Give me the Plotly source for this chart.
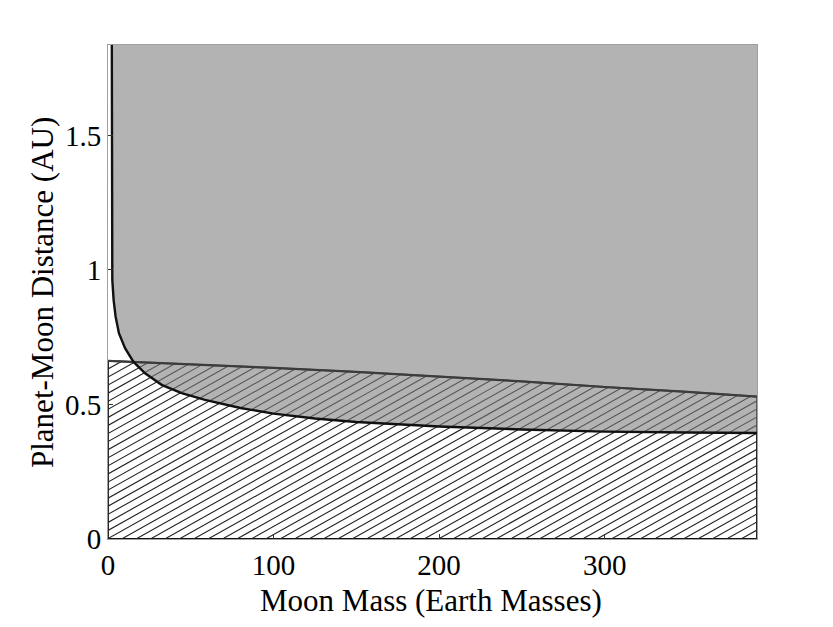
import numpy as np
import plotly.graph_objects as go

# ---- data ----
CURVE_M = [2.3, 2.4, 2.5, 2.6, 3.4, 4.6, 6.6, 10.3, 15.3, 22.4, 32.4, 44.5, 58.6,
           80, 100, 125, 150, 200, 250, 300, 350, 392]
CURVE_A = [1.84, 1.5, 1.2, 0.963, 0.888, 0.826, 0.765, 0.709, 0.659, 0.616, 0.573,
           0.542, 0.517, 0.487, 0.466, 0.448, 0.435, 0.418, 0.407, 0.399, 0.396, 0.394]

LINE_M = [0, 50, 100, 150, 200, 250, 300, 350, 392]
LINE_A = [0.662, 0.650, 0.636, 0.621, 0.604, 0.586, 0.565, 0.547, 0.529]

X_TICKS = [0, 100, 200, 300]
X_TICK_TEXT = ["0", "100", "200", "300"]
Y_TICKS = [0, 0.5, 1, 1.5]
Y_TICK_TEXT = ["0", "0.5", "1", "1.5"]

X_TITLE = "Moon Mass (Earth Masses)"
Y_TITLE = "Planet-Moon Distance (AU)"

X_MAX = 392
Y_MAX = 1.836

# ---- hatch styling (decoration derived from the boundary line) ----
HATCH_SLOPE = 0.00345    # AU per Earth mass (~30 deg on screen)
HATCH_STEP = 8.7         # Earth masses between lines along the x axis


def hatch_segments(bx, by, slope, step, xmax):
    xs = np.linspace(0, xmax, 4000)
    top = np.interp(xs, bx, by)
    hx, hy = [], []
    x0 = -by[0] / slope
    while x0 < xmax:
        xs0 = max(0.0, x0)
        ys0 = slope * (xs0 - x0)
        d = slope * (xs - x0) - top
        idx = np.where((d >= 0) & (xs >= xs0))[0]
        if len(idx) == 0:
            xe = xmax
        else:
            i = idx[0]
            if i == 0:
                xe = xs[0]
            else:
                xe = xs[i - 1] + (xs[i] - xs[i - 1]) * (-d[i - 1]) / (d[i] - d[i - 1])
        ye = slope * (xe - x0)
        if xe > xs0:
            hx += [xs0, xe, None]
            hy += [ys0, ye, None]
        x0 += step
    return hx, hy


hx, hy = hatch_segments(LINE_M, LINE_A, HATCH_SLOPE, HATCH_STEP, X_MAX)

fig = go.Figure()

# hatched region (below the upper boundary line)
fig.add_trace(go.Scatter(
    x=LINE_M + [X_MAX, 0, 0], y=LINE_A + [0, 0, LINE_A[0]],
    mode="lines", fill="toself", fillcolor="white",
    line=dict(color="#111111", width=1.8), hoverinfo="skip", showlegend=False))

fig.add_trace(go.Scatter(
    x=hx, y=hy, mode="lines", line=dict(color="#222222", width=1.1),
    hoverinfo="skip", showlegend=False))

# grey region (above the curve)
fig.add_trace(go.Scatter(
    x=CURVE_M + [X_MAX, CURVE_M[0]], y=CURVE_A + [Y_MAX, Y_MAX],
    mode="lines", fill="toself", fillcolor="rgba(125,125,125,0.59)",
    line=dict(width=0), hoverinfo="skip", showlegend=False))

# upper boundary line seen through the grey
fig.add_trace(go.Scatter(
    x=LINE_M, y=LINE_A, mode="lines",
    line=dict(color="#3c3c3c", width=2.2), hoverinfo="skip", showlegend=False))

fig.add_trace(go.Scatter(
    x=CURVE_M, y=CURVE_A, mode="lines",
    line=dict(color="#111111", width=2.4), showlegend=False))

font_family = "Liberation Serif"
fig.update_layout(
    width=833, height=627,
    margin=dict(l=100, r=84, t=37, b=96),
    paper_bgcolor="white", plot_bgcolor="white",
    font=dict(family=font_family, color="black", size=29),
    showlegend=False,
    annotations=[
        dict(text=X_TITLE, xref="paper", yref="paper", x=0.497, y=-0.1235,
             xanchor="center", yanchor="middle", showarrow=False,
             font=dict(size=31, family=font_family, color="black")),
        dict(text=Y_TITLE, xref="paper", yref="paper", x=-0.1017, y=0.5,
             xanchor="center", yanchor="middle", showarrow=False, textangle=-90,
             font=dict(size=31, family=font_family, color="black")),
    ],
)
fig.update_xaxes(
    range=[0, X_MAX], tickvals=X_TICKS, ticktext=X_TICK_TEXT,
    showgrid=False, zeroline=False, showline=True, mirror=True,
    linecolor="#a0a0a0", linewidth=1, automargin=False,
    ticks="inside", ticklen=5, tickcolor="#333333",
    tickfont=dict(size=29, family=font_family),
)
fig.update_yaxes(
    range=[0, Y_MAX], tickvals=Y_TICKS, ticktext=Y_TICK_TEXT,
    showgrid=False, zeroline=False, showline=True, mirror=True,
    linecolor="#a0a0a0", linewidth=1, automargin=False,
    ticks="inside", ticklen=5, tickcolor="#333333",
    tickfont=dict(size=29, family=font_family),
)

fig.write_html("out.html")
